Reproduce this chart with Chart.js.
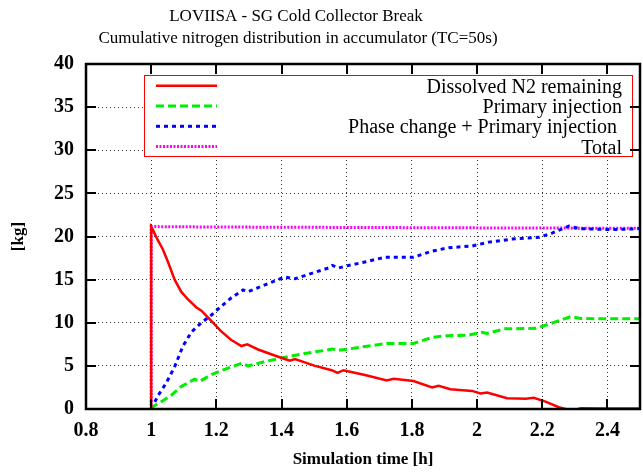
<!DOCTYPE html>
<html>
<head>
<meta charset="utf-8">
<script src="https://cdn.jsdelivr.net/npm/chart.js@4.4.0/dist/chart.umd.min.js"></script>
<style>
  html, body { margin: 0; padding: 0; background: #fff; }
  #myChart { display: block; }
</style>
</head>
<body>
<canvas id="myChart" width="643" height="475"></canvas>
<script>
const serif = "'Liberation Serif', 'Times New Roman', serif";

// simulation time [h] / mass [kg]
const timeDissolved = [1.0, 1.0, 1.005, 1.02, 1.036, 1.051, 1.072, 1.092, 1.113, 1.138, 1.154, 1.185, 1.215, 1.246, 1.277, 1.295, 1.328, 1.379, 1.41, 1.426, 1.441, 1.503, 1.554, 1.572, 1.59, 1.656, 1.723, 1.744, 1.805, 1.862, 1.882, 1.918, 1.985, 2.01, 2.031, 2.092, 2.149, 2.174, 2.21, 2.251, 2.292, 2.318, 2.4, 2.5];
const dissolved = [0, 21.1, 20.8, 19.6, 18.5, 17.1, 15.0, 13.6, 12.7, 11.8, 11.4, 10.2, 9.0, 8.0, 7.3, 7.5, 6.9, 6.2, 5.8, 5.6, 5.8, 5.0, 4.5, 4.2, 4.5, 3.95, 3.3, 3.5, 3.25, 2.5, 2.7, 2.3, 2.1, 1.8, 1.9, 1.24, 1.2, 1.3, 0.85, 0.2, -0.2, 0.08, 0.05, 0.05];

const timePrimary = [1.0, 1.005, 1.031, 1.062, 1.092, 1.133, 1.149, 1.185, 1.226, 1.277, 1.297, 1.349, 1.41, 1.482, 1.544, 1.556, 1.575, 1.595, 1.656, 1.723, 1.805, 1.862, 1.908, 1.974, 2.015, 2.03, 2.087, 2.18, 2.215, 2.287, 2.318, 2.4, 2.5];
const primary = [0, 0.25, 0.85, 1.6, 2.6, 3.45, 3.2, 4.0, 4.6, 5.3, 5.0, 5.5, 6.0, 6.5, 6.86, 6.95, 6.8, 6.9, 7.25, 7.6, 7.6, 8.3, 8.5, 8.55, 8.9, 8.75, 9.3, 9.35, 9.77, 10.7, 10.5, 10.45, 10.45];

const timePhase = [1.0, 1.005, 1.02, 1.046, 1.072, 1.097, 1.123, 1.154, 1.185, 1.215, 1.246, 1.282, 1.298, 1.349, 1.41, 1.441, 1.482, 1.544, 1.556, 1.575, 1.595, 1.656, 1.718, 1.805, 1.862, 1.913, 1.985, 2.036, 2.108, 2.19, 2.23, 2.282, 2.318, 2.418, 2.5];
const phase = [0, 0.3, 1.5, 3.0, 4.9, 7.25, 8.9, 10.0, 10.9, 11.9, 12.9, 13.8, 13.6, 14.4, 15.3, 15.1, 15.6, 16.35, 16.65, 16.35, 16.55, 17.05, 17.6, 17.6, 18.3, 18.7, 18.9, 19.35, 19.7, 19.9, 20.4, 21.2, 20.9, 20.8, 20.9];

const timeTotal = [1.0, 1.0, 1.2, 1.6, 2.0, 2.5];
const total = [0, 21.15, 21.1, 21.05, 21.0, 20.95];

const xTicks = [0.8, 1.0, 1.2, 1.4, 1.6, 1.8, 2.0, 2.2, 2.4];
const yTicks = [0, 5, 10, 15, 20, 25, 30, 35, 40];

const titleLines = ['LOVIISA - SG Cold Collector Break', 'Cumulative nitrogen distribution in accumulator (TC=50s)'];
const seriesNames = ['Dissolved N2 remaining', 'Primary injection', 'Phase change + Primary injection ', 'Total'];

function points(xs, ys) {
  return xs.map((x, i) => ({ x: x, y: ys[i] }));
}

// gnuplot-like title, legend box, frame and inward ticks
const gnuplotLook = {
  id: 'gnuplotLook',
  afterDraw(chart) {
    const c = chart.ctx;
    const a = chart.chartArea;
    const xs = chart.scales.x, ys = chart.scales.y;

    c.save();
    c.fillStyle = '#000';
    c.textAlign = 'center';
    c.textBaseline = 'alphabetic';
    c.font = '17px ' + serif;
    c.fillText(titleLines[0], 296, 21);
    c.fillText(titleLines[1], 298, 43);

    // legend
    const bx = 144, by = 75, bw = 488, bh = 81;
    c.fillStyle = '#fff';
    c.fillRect(bx, by, bw, bh);
    c.strokeStyle = '#ff0000';
    c.lineWidth = 1;
    c.strokeRect(bx + 0.5, by + 0.5, bw, bh);
    c.font = '20px ' + serif;
    c.textAlign = 'right';
    chart.data.datasets.forEach((ds, i) => {
      const base = 92.7 + i * 20.3;
      const ly = base - 7;
      c.strokeStyle = ds.borderColor;
      c.lineWidth = ds.borderWidth;
      c.setLineDash(ds.borderDash || []);
      c.beginPath();
      c.moveTo(156, ly);
      c.lineTo(217, ly);
      c.stroke();
      c.setLineDash([]);
      c.fillStyle = '#000';
      c.fillText(seriesNames[i], 622, base);
    });

    // frame
    c.strokeStyle = '#000';
    c.lineWidth = 2.5;
    c.strokeRect(a.left, a.top, a.right - a.left, a.bottom - a.top);
    c.lineWidth = 2;
    c.beginPath();
    xTicks.forEach(v => {
      const px = Math.round(xs.getPixelForValue(v));
      c.moveTo(px, a.bottom); c.lineTo(px, a.bottom - 10);
      c.moveTo(px, a.top); c.lineTo(px, a.top + 10);
    });
    yTicks.forEach(v => {
      const py = Math.round(ys.getPixelForValue(v));
      c.moveTo(a.left, py); c.lineTo(a.left + 10, py);
      c.moveTo(a.right, py); c.lineTo(a.right - 10, py);
    });
    c.stroke();
    c.restore();
  }
};

const gridStyle = { color: 'rgba(0,0,0,0.8)', lineWidth: 1, drawTicks: false };
const tickFont = { family: serif, size: 20, weight: 'bold' };
const axisTitleFont = { family: serif, size: 17, weight: 'bold' };

let ctx = document.getElementById('myChart').getContext('2d');
let myChart = new Chart(ctx, {
  type: 'line',
  data: {
    datasets: [
      {
        label: seriesNames[0],
        data: points(timeDissolved, dissolved),
        borderColor: '#ff0000',
        borderWidth: 2.5,
      },
      {
        label: seriesNames[1],
        data: points(timePrimary, primary),
        borderColor: '#00ee00',
        borderWidth: 3,
        borderDash: [8, 4],
      },
      {
        label: seriesNames[2],
        data: points(timePhase, phase),
        borderColor: '#0000ff',
        borderWidth: 3,
        borderDash: [4, 4],
      },
      {
        label: seriesNames[3],
        data: points(timeTotal, total),
        borderColor: '#ff00ff',
        borderWidth: 3,
        borderDash: [2, 1.5],
      },
    ],
  },
  options: {
    responsive: false,
    animation: false,
    devicePixelRatio: 1,
    elements: { point: { radius: 0 }, line: { tension: 0, fill: false } },
    layout: { padding: { top: 64, right: 3, left: 0, bottom: 0 } },
    plugins: {
      legend: { display: false },
      title: { display: false },
      tooltip: { enabled: false },
    },
    scales: {
      x: {
        type: 'linear',
        min: 0.8,
        max: 2.5,
        afterBuildTicks: s => { s.ticks = xTicks.map(v => ({ value: v })); },
        afterFit: s => { s.height = 66; },
        grid: gridStyle,
        border: { display: false, dash: [1, 3] },
        ticks: {
          font: tickFont, color: '#000', padding: 10, maxRotation: 0, autoSkip: false,
          callback: v => String(Math.round(v * 10) / 10),
        },
        title: { display: true, text: 'Simulation time [h]', font: axisTitleFont, color: '#000', padding: { top: 0, bottom: 5 } },
      },
      y: {
        type: 'linear',
        min: 0,
        max: 40,
        afterBuildTicks: s => { s.ticks = yTicks.map(v => ({ value: v })); },
        afterFit: s => { s.width = 86; },
        grid: gridStyle,
        border: { display: false, dash: [1, 3] },
        ticks: { font: tickFont, color: '#000', padding: 12, autoSkip: false },
        title: { display: true, text: '[kg]', font: axisTitleFont, color: '#000', padding: { top: 8, bottom: 0 } },
      },
    },
  },
  plugins: [gnuplotLook],
});
</script>
</body>
</html>
